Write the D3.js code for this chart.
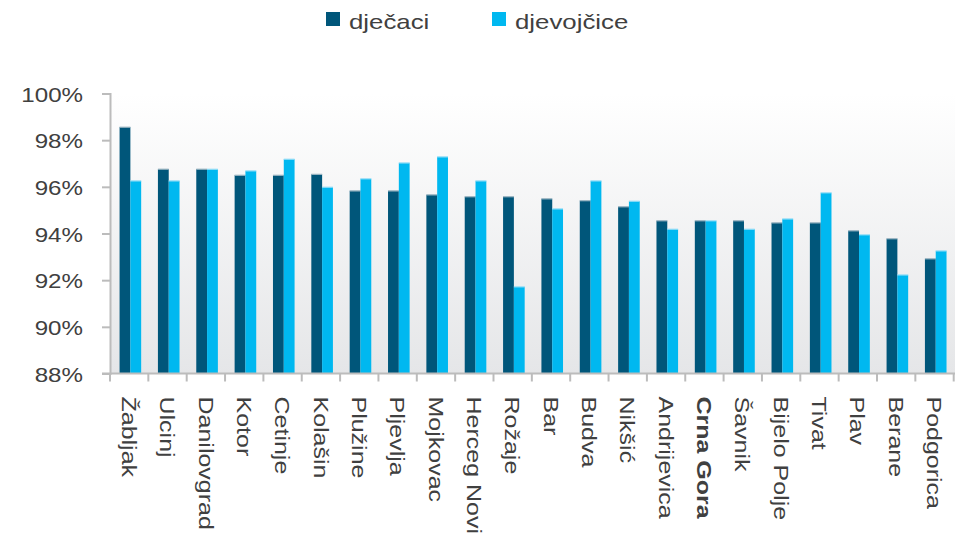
<!DOCTYPE html>
<html>
<head>
<meta charset="utf-8">
<script src="https://cdn.jsdelivr.net/npm/d3@7"></script>
<style>
  body { margin: 0; background: #fff; }
  svg { display: block; font-family: "Liberation Sans", Arial, sans-serif; }
</style>
</head>
<body>
<div id="chart"></div>
<script>
const cities = ["Žabljak", "Ulcinj", "Danilovgrad", "Kotor", "Cetinje", "Kolašin", "Plužine", "Pljevlja",
  "Mojkovac", "Herceg Novi", "Rožaje", "Bar", "Budva", "Nikšić", "Andrijevica", "Crna Gora",
  "Šavnik", "Bijelo Polje", "Tivat", "Plav", "Berane", "Podgorica"]
const djecaci = [98.56, 96.76, 96.76, 96.5, 96.5, 96.54, 95.83, 95.83, 95.66, 95.58, 95.58, 95.49,
  95.41, 95.15, 94.55, 94.55, 94.55, 94.46, 94.46, 94.12, 93.78, 92.92]
const djevojcice = [96.26, 96.26, 96.76, 96.69, 97.19, 95.99, 96.35, 97.03, 97.29, 96.26, 91.72, 95.06,
  96.26, 95.39, 94.19, 94.55, 94.19, 94.63, 95.75, 93.95, 92.23, 93.26]
const yTicks = [88, 90, 92, 94, 96, 98, 100]
const seriesNames = ["dječaci", "djevojčice"]
const colors = ["#00567a", "#00b8f0"]

const width = 955, height = 540
const plotLeft = 110, plotRight = 953.7, plotTop = 93.5, plotBottom = 373.5
const textColor = "#404040", axisColor = "#bcbcbc"

const svg = d3.select("#chart").append("svg")
    .attr("width", width)
    .attr("height", height)

const x = d3.scaleBand().domain(cities).range([plotLeft, plotRight])
const y = d3.scaleLinear().domain([88, 100]).range([plotBottom, plotTop])
const barW = 10.8

// plot background gradient
const grad = svg.append("defs").append("linearGradient")
    .attr("id", "bg").attr("x1", 0).attr("y1", 0).attr("x2", 0).attr("y2", 1)
grad.append("stop").attr("offset", "0%").attr("stop-color", "#ffffff")
grad.append("stop").attr("offset", "100%").attr("stop-color", "#e5e6e8")
svg.append("rect")
    .attr("x", plotLeft).attr("y", plotTop)
    .attr("width", width - plotLeft).attr("height", plotBottom - plotTop)
    .attr("fill", "url(#bg)")

// bars
const series = [djecaci, djevojcice]
series.forEach((vals, si) => {
  const g = svg.append("g")
  const bx = (d, i) => x(cities[i]) + x.bandwidth() / 2 + 1.2 + (si - 1) * barW
  g.selectAll("rect.bar")
    .data(vals)
    .join("rect")
      .attr("class", "bar")
      .attr("x", bx)
      .attr("y", d => y(d))
      .attr("width", barW)
      .attr("height", d => y(88) - y(d))
      .attr("fill", colors[si])
  // faint light top edge
  g.selectAll("rect.edge")
    .data(vals)
    .join("rect")
      .attr("class", "edge")
      .attr("x", bx)
      .attr("y", d => y(d) - 0.5)
      .attr("width", barW)
      .attr("height", 1.2)
      .attr("fill", si ? "#a6e2f7" : "#9fb7c4")
})

// y axis
const yAxis = svg.append("g")
    .attr("transform", `translate(${plotLeft},0)`)
    .call(d3.axisLeft(y).tickValues(yTicks).tickSize(8).tickPadding(18).tickFormat(d => d + "%"))
yAxis.select(".domain").attr("stroke", axisColor).attr("stroke-width", 2)
yAxis.selectAll(".tick line").attr("stroke", axisColor).attr("stroke-width", 2)
yAxis.selectAll(".tick text")
    .attr("fill", textColor)
    .style("font-size", "21px")
    .attr("x", null)
    .attr("transform", "translate(-27,1) scale(1.15,1)")

// x axis
const xAxis = svg.append("g")
    .attr("transform", `translate(0,${plotBottom})`)
    .call(d3.axisBottom(x).tickSize(0).tickPadding(0))
xAxis.select(".domain").attr("stroke", axisColor).attr("stroke-width", 2)
    .attr("d", `M${plotLeft - 8},0H${width}`)
xAxis.selectAll(".tick text")
    .attr("fill", textColor)
    .style("font-size", "21px")
    .style("font-weight", d => d === "Crna Gora" ? "bold" : null)
    .attr("text-anchor", "start")
    .attr("y", null)
    .attr("dy", "0.35em")
    .attr("transform", "translate(0,23) rotate(90) scale(1.19,1)")

// boundary ticks between categories
svg.append("g")
  .selectAll("line")
  .data(cities.concat([null]))
  .join("line")
    .attr("x1", (d, i) => plotLeft + i * x.step())
    .attr("x2", (d, i) => plotLeft + i * x.step())
    .attr("y1", plotBottom)
    .attr("y2", plotBottom + 8)
    .attr("stroke", axisColor)
    .attr("stroke-width", 2)

// legend
const legendX = [326, 492]
const legend = svg.append("g")
seriesNames.forEach((name, i) => {
  legend.append("rect")
      .attr("x", legendX[i]).attr("y", 12)
      .attr("width", 14).attr("height", 14)
      .attr("fill", colors[i])
  legend.append("text")
      .attr("transform", `translate(${legendX[i] + 23},29) scale(1.29,1)`)
      .attr("fill", textColor)
      .style("font-size", "20px")
      .text(name)
})
</script>
</body>
</html>
